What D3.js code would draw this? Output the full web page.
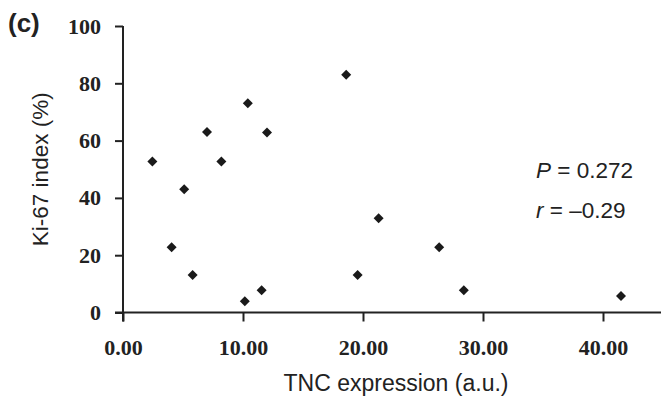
<!DOCTYPE html>
<html>
<head>
<meta charset="utf-8">
<script src="https://cdn.jsdelivr.net/npm/d3@7"></script>
<style>
  html, body { margin: 0; padding: 0; background: #fff; }
  svg { display: block; }
  .tick text { font-family: "Liberation Serif", "Times New Roman", serif; font-weight: bold; font-size: 22px; fill: #222; }
  .domain, .tick line { stroke: #222; stroke-width: 2; }
</style>
</head>
<body>
<div id="chart"></div>
<script>
// Data
const tncValues = [2.45, 4.05, 5.1, 5.8, 7.0, 8.2, 10.4, 10.15, 12.0, 11.55, 18.6, 19.55, 21.3, 26.35, 28.4, 41.5];
const ki67Values = [52.7, 22.8, 43.0, 13.1, 63.0, 52.7, 73.0, 3.9, 62.8, 7.8, 83.0, 13.1, 32.9, 22.8, 7.8, 5.8];
const xTicks = [0, 10, 20, 30, 40];
const yTicks = [0, 20, 40, 60, 80, 100];

const W = 661, H = 396;
const MARGIN = { top: 26, right: 0, bottom: 84, left: 123 };

const svg = d3.select('#chart').append('svg')
    .attr('width', W)
    .attr('height', H);

const x = d3.scaleLinear()
    .domain([0, 45])
    .range([MARGIN.left, MARGIN.left + 540]);

const y = d3.scaleLinear()
    .domain([0, 100])
    .range([H - MARGIN.bottom + 0.5, MARGIN.top]);

// Axes
const xAxis = svg.append('g')
    .attr('transform', `translate(0,${y(0)})`)
    .call(d3.axisBottom(x).tickValues(xTicks).tickFormat(d3.format('.2f')).tickSizeOuter(0).tickSize(9).tickPadding(20))
    .call(g => g.select('.domain').attr('d', `M${MARGIN.left - 8},0H${W}`));

svg.append('g')
    .attr('transform', `translate(${x(0)},0)`)
    .call(d3.axisLeft(y).tickValues(yTicks).tickSizeOuter(0).tickSize(8).tickPadding(14))
    .call(g => g.select('.domain').attr('d', `M0,${y(100)}V${y(0) + 9}`));

svg.selectAll('.tick text').attr('font-family', null).attr('font-size', null);
xAxis.selectAll('.tick text').attr('dy', '0.62em');

// Points (diamonds)
const diamond = 'M0,-5L5,0L0,5L-5,0Z';
svg.append('g')
    .selectAll('path')
    .data(tncValues.map((v, i) => ({ tnc: v, ki: ki67Values[i] })))
    .join('path')
    .attr('d', diamond)
    .attr('transform', d => `translate(${x(d.tnc)},${y(d.ki)})`)
    .attr('fill', '#1a1a1a');

// Axis titles
svg.append('text')
    .attr('x', 396)
    .attr('y', 391)
    .attr('text-anchor', 'middle')
    .attr('font-family', 'Liberation Sans, Arial, sans-serif')
    .attr('font-size', 23)
    .attr('fill', '#222')
    .text('TNC expression (a.u.)');

svg.append('text')
    .attr('transform', `translate(48,${(y(0) + y(100)) / 2}) rotate(-90)`)
    .attr('text-anchor', 'middle')
    .attr('font-family', 'Liberation Sans, Arial, sans-serif')
    .attr('font-size', 22.5)
    .attr('fill', '#222')
    .text('Ki-67 index (%)');

// Panel label
svg.append('text')
    .attr('x', 8)
    .attr('y', 32)
    .attr('font-family', 'Liberation Sans, Arial, sans-serif')
    .attr('font-weight', 'bold')
    .attr('font-size', 26)
    .attr('fill', '#222')
    .text('(c)');

// Statistics annotation
const stats = svg.append('g')
    .attr('font-family', 'Liberation Sans, Arial, sans-serif')
    .attr('font-size', 22.5)
    .attr('fill', '#222');

const p = stats.append('text').attr('x', 536).attr('y', 178);
p.append('tspan').attr('font-style', 'italic').text('P');
p.append('tspan').text(' = 0.272');

const r = stats.append('text').attr('x', 536).attr('y', 218);
r.append('tspan').attr('font-style', 'italic').text('r');
r.append('tspan').text(' = \u20130.29');
</script>
</body>
</html>
